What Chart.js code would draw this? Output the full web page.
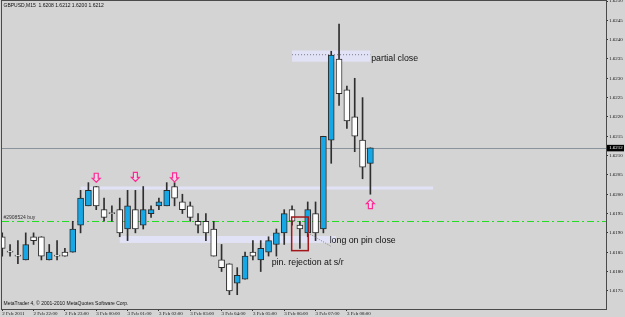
<!DOCTYPE html>
<html>
<head>
<meta charset="utf-8">
<script src="https://cdn.jsdelivr.net/npm/chart.js@4.4.1/dist/chart.umd.min.js"></script>
<style>
  html, body { margin: 0; padding: 0; background: #d4d4d4; }
  canvas { display: block; }
</style>
</head>
<body>
<canvas id="chart" width="625" height="317"></canvas>
<script>
// GBPUSD M15, 2 Feb 21:00 -> 3 Feb 08:45
const timeLabels = ["2 Feb 2011", "2 Feb 22:00", "2 Feb 23:00", "3 Feb 00:00", "3 Feb 01:00", "3 Feb 02:00",
  "3 Feb 03:00", "3 Feb 04:00", "3 Feb 05:00", "3 Feb 06:00", "3 Feb 07:00", "3 Feb 08:00"];

const opens = [1.6189, 1.6185, 1.6184, 1.6183, 1.6189, 1.6189, 1.6183, 1.6184, 1.6185, 1.6185,
  1.6192, 1.6197, 1.6202, 1.6196, 1.6195, 1.6196, 1.6191, 1.6196, 1.6192, 1.6195,
  1.6197, 1.6197, 1.6202, 1.6198, 1.6197, 1.6193, 1.6193, 1.6191, 1.6183, 1.6182,
  1.6177, 1.6178, 1.6185, 1.6183, 1.6185, 1.6187, 1.6190, 1.6196, 1.6192, 1.6190,
  1.6195, 1.6191, 1.6214, 1.6235, 1.6227, 1.6220, 1.6214, 1.6208];
const highs = [1.6190, 1.6187, 1.6188, 1.6190, 1.6190, 1.6189, 1.6187, 1.6188, 1.6186, 1.6193,
  1.6201, 1.6203, 1.6202, 1.6199, 1.6197, 1.6199, 1.6201, 1.6201, 1.6202, 1.6197,
  1.6199, 1.6203, 1.6203, 1.6200, 1.6198, 1.6195, 1.6195, 1.6193, 1.6187, 1.6182,
  1.6181, 1.6185, 1.6188, 1.6188, 1.6189, 1.6191, 1.6196, 1.6197, 1.6193, 1.6198,
  1.6198, 1.6215, 1.6237, 1.6244, 1.6228, 1.6230, 1.6225, 1.6212];
const lows = [1.6184, 1.6184, 1.6182, 1.6183, 1.6187, 1.6183, 1.6183, 1.6183, 1.6184, 1.6185,
  1.6190, 1.6197, 1.6196, 1.6193, 1.6193, 1.6189, 1.6188, 1.6190, 1.6191, 1.6194,
  1.6196, 1.6197, 1.6197, 1.6195, 1.6193, 1.6190, 1.6188, 1.6184, 1.6180, 1.6174,
  1.6174, 1.6178, 1.6183, 1.6180, 1.6184, 1.6184, 1.6187, 1.6192, 1.6186, 1.6189,
  1.6188, 1.6190, 1.6208, 1.6223, 1.6217, 1.6211, 1.6204, 1.6200];
const closes = [1.6186, 1.6185, 1.6184, 1.6187, 1.6188, 1.6184, 1.6185, 1.6184, 1.6184, 1.6191,
  1.6199, 1.6201, 1.6197, 1.6194, 1.6195, 1.6190, 1.6197, 1.6191, 1.6196, 1.6196,
  1.6198, 1.6201, 1.6199, 1.6196, 1.6194, 1.6192, 1.6190, 1.6184, 1.6181, 1.6175,
  1.6179, 1.6184, 1.6184, 1.6186, 1.6188, 1.6190, 1.6195, 1.6193, 1.6191, 1.6196,
  1.6190, 1.6215, 1.6236, 1.6226, 1.6219, 1.6215, 1.6207, 1.6212];

const bidPrice = 1.6212;
const orderPrice = 1.6193;

const tickIdx = timeLabels.map((_, k) => k * 4);

// objects drawn on the chart (bar index, price)
const marks = {
  bands: [
    { from: 37, to: 47, top: 1.62372, bottom: 1.62343 },
    { from: 10, to: 55, top: 1.62020, bottom: 1.62012 },
    { from: 15, to: 42.6, top: 1.61892, bottom: 1.61874 }
  ],
  downArrows: [{ i: 12, p: 1.62031 }, { i: 17, p: 1.62033 }, { i: 22, p: 1.62032 }],
  upArrows: [{ i: 47, p: 1.61986 }],
  texts: [
    { i: 47.1, p: 1.62351, text: "partial close" },
    { i: 41.8, p: 1.61879, text: "long on pin close" },
    { i: 34.4, p: 1.61822, text: "pin. rejection at s/r" }
  ]
};

const bodies = opens.map((o, i) => ({ x: i, y: [o, closes[i]] }));
const wicks = lows.map((l, i) => ({ x: i, y: [l, highs[i]] }));
const bodyColors = opens.map((o, i) => (closes[i] > o ? "#16a8e6" : "#ffffff"));

function arrow(ctx, x, y, up) {
  const s = up ? 1 : -1;
  ctx.beginPath();
  ctx.moveTo(x, y);
  ctx.lineTo(x + 4, y + 4 * s);
  ctx.lineTo(x + 2, y + 4 * s);
  ctx.lineTo(x + 2, y + 9 * s);
  ctx.lineTo(x - 2, y + 9 * s);
  ctx.lineTo(x - 2, y + 4 * s);
  ctx.lineTo(x - 4, y + 4 * s);
  ctx.closePath();
  ctx.fillStyle = "#e6dbe4";
  ctx.fill();
  ctx.strokeStyle = "#ff2a95";
  ctx.lineWidth = 1.2;
  ctx.stroke();
}

const mt4Marks = {
  id: "mt4Marks",
  beforeDatasetsDraw(chart) {
    const { ctx, chartArea: a, scales: { x, y } } = chart;
    ctx.save();
    ctx.beginPath();
    ctx.rect(a.left, a.top, a.right - a.left, a.bottom - a.top);
    ctx.clip();
    ctx.fillStyle = "#e2e2f6";
    marks.bands.forEach(b => {
      const x0 = x.getPixelForValue(b.from), x1 = x.getPixelForValue(b.to);
      const y0 = y.getPixelForValue(b.top), y1 = y.getPixelForValue(b.bottom);
      ctx.fillRect(x0, y0, x1 - x0, Math.max(2.5, y1 - y0));
    });
    // dotted line inside the partial close box
    const yd = y.getPixelForValue(1.62361);
    ctx.strokeStyle = "#7a7a8a";
    ctx.lineWidth = 1;
    ctx.setLineDash([1, 2]);
    ctx.beginPath();
    ctx.moveTo(x.getPixelForValue(37), yd);
    ctx.lineTo(x.getPixelForValue(47), yd);
    ctx.stroke();
    // bid line
    ctx.setLineDash([]);
    const yb = Math.round(y.getPixelForValue(bidPrice)) + 0.5;
    ctx.strokeStyle = "#8a929c";
    ctx.beginPath();
    ctx.moveTo(a.left, yb);
    ctx.lineTo(a.right, yb);
    ctx.stroke();
    // order line
    const yo = Math.round(y.getPixelForValue(orderPrice)) + 0.5;
    ctx.strokeStyle = "#22dd22";
    ctx.lineWidth = 1.2;
    ctx.setLineDash([7, 3, 2, 3]);
    ctx.beginPath();
    ctx.moveTo(a.left, yo);
    ctx.lineTo(a.right, yo);
    ctx.stroke();
    ctx.setLineDash([]);
    ctx.fillStyle = "#333";
    ctx.font = '5px "Liberation Sans", Arial';
    ctx.textBaseline = "bottom";
    ctx.fillText("#2908524 buy", a.left + 1.5, yo - 1);
    ctx.restore();
  },
  afterDatasetsDraw(chart) {
    const { ctx, scales: { x, y } } = chart;
    ctx.save();
    marks.downArrows.forEach(m => arrow(ctx, x.getPixelForValue(m.i), y.getPixelForValue(m.p), false));
    marks.upArrows.forEach(m => arrow(ctx, x.getPixelForValue(m.i), y.getPixelForValue(m.p), true));
    // pin bar box
    const rx0 = x.getPixelForValue(36.95), rx1 = x.getPixelForValue(39.07);
    const ry0 = y.getPixelForValue(1.61941), ry1 = y.getPixelForValue(1.61854);
    ctx.strokeStyle = "#a3161a";
    ctx.lineWidth = 1.5;
    ctx.strokeRect(rx0, ry0, rx1 - rx0, ry1 - ry0);
    // dotted pointer to the label
    ctx.strokeStyle = "#808088";
    ctx.lineWidth = 1;
    ctx.setLineDash([1, 1.5]);
    ctx.beginPath();
    ctx.moveTo(x.getPixelForValue(39.04), y.getPixelForValue(1.619));
    ctx.lineTo(x.getPixelForValue(41.98), y.getPixelForValue(1.61865));
    ctx.stroke();
    ctx.setLineDash([]);
    ctx.fillStyle = "#111";
    ctx.font = '8.8px "Liberation Sans", Arial';
    ctx.textBaseline = "middle";
    ctx.textAlign = "left";
    marks.texts.forEach(t => ctx.fillText(t.text, x.getPixelForValue(t.i), y.getPixelForValue(t.p)));
    ctx.restore();
  },
  afterDraw(chart) {
    const { ctx, chartArea: a, scales: { y } } = chart;
    ctx.save();
    ctx.strokeStyle = "#4a4a4a";
    ctx.lineWidth = 1;
    ctx.strokeRect(Math.round(a.left) - 0.5, Math.round(a.top) - 0.5, Math.round(a.right - a.left) + 1, Math.round(a.bottom - a.top) + 1);
    ctx.fillStyle = "#111";
    ctx.textBaseline = "middle";
    ctx.font = '5px "Liberation Sans", Arial';
    ctx.fillText("GBPUSD,M15  1.6208 1.6212 1.6200 1.6212", a.left + 1.5, a.top + 5);
    ctx.fillText("MetaTrader 4, \u00a9 2001-2010 MetaQuotes Software Corp.", a.left + 1.5, a.bottom - 5);
    // bid price tag on the axis
    const yb = y.getPixelForValue(bidPrice);
    ctx.fillStyle = "#000";
    ctx.fillRect(a.right + 1, yb - 3, 17, 6.5);
    ctx.fillStyle = "#fff";
    ctx.font = '5px "Liberation Serif", serif';
    ctx.fillText(bidPrice.toFixed(4), a.right + 3, yb + 0.3);
    ctx.restore();
  }
};

new Chart(document.getElementById("chart"), {
  type: "bar",
  data: {
    datasets: [
      {
        data: bodies,
        backgroundColor: bodyColors,
        borderColor: "#2a2a2a",
        borderWidth: 1,
        borderSkipped: false,
        barThickness: 6,
        minBarLength: 1,
        grouped: false,
        order: 0
      },
      {
        data: wicks,
        backgroundColor: "#2e2e2e",
        barThickness: 1,
        grouped: false,
        order: 1
      }
    ]
  },
  plugins: [mt4Marks],
  options: {
    responsive: false,
    animation: false,
    events: [],
    layout: { padding: { left: 2, top: 1, right: 0, bottom: 0 } },
    plugins: { legend: { display: false }, tooltip: { enabled: false } },
    scales: {
      x: {
        type: "linear",
        offset: false,
        min: -0.03,
        max: 77.08,
        afterBuildTicks: scale => { scale.ticks = tickIdx.map(v => ({ value: v })); },
        afterFit: scale => {
          scale.height = 8;
          scale.paddingLeft = 0;
          scale.paddingRight = 0;
        },
        ticks: {
          autoSkip: false,
          maxRotation: 0,
          align: "start",
          padding: 0,
          color: "#111",
          font: { family: '"Liberation Serif", serif', size: 5 },
          callback: (v, k) => timeLabels[k]
        },
        grid: { drawOnChartArea: false, drawTicks: true, tickLength: 2, color: "#333", offset: false },
        border: { display: false }
      },
      y: {
        position: "right",
        min: 1.61703,
        max: 1.6250,
        afterBuildTicks: scale => {
          const t = [];
          for (let v = 1.6175; v <= 1.62501; v += 0.0005) t.push({ value: +v.toFixed(4) });
          scale.ticks = t;
        },
        afterFit: scale => {
          scale.width = 19;
          scale.paddingTop = 0;
          scale.paddingBottom = 0;
        },
        ticks: {
          padding: 1,
          color: "#111",
          font: { family: '"Liberation Serif", serif', size: 5 },
          callback: v => v.toFixed(4)
        },
        grid: { drawOnChartArea: false, drawTicks: true, tickLength: 2, color: "#333" },
        border: { display: false }
      }
    }
  }
});
</script>
</body>
</html>
